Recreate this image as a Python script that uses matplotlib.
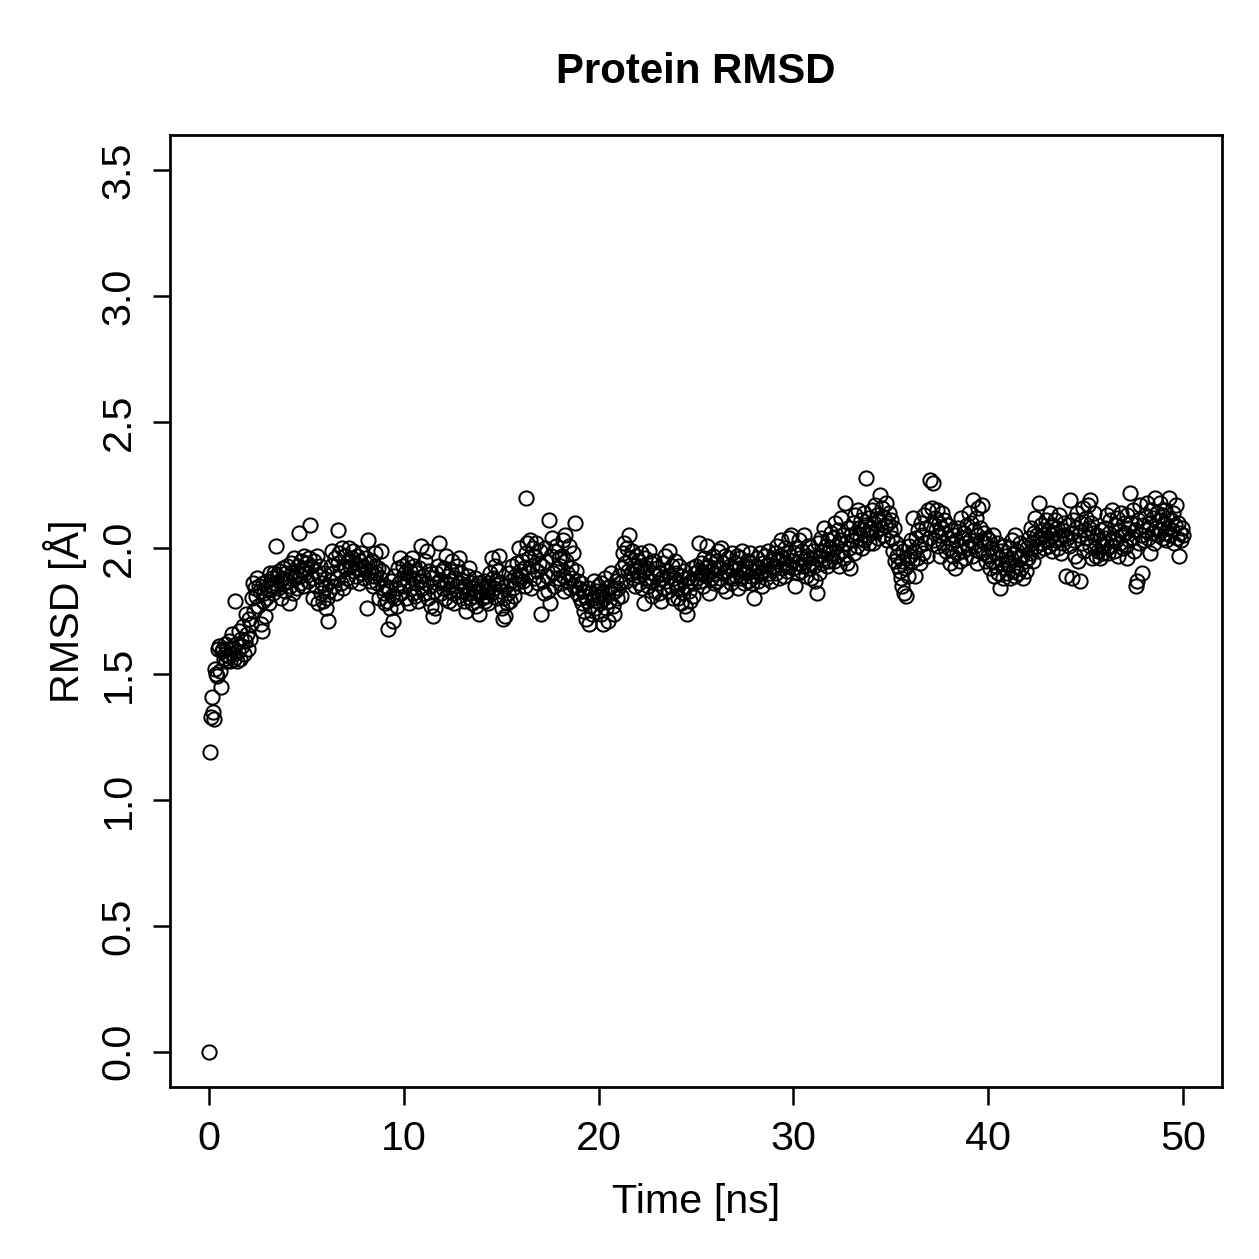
import numpy as np
import matplotlib
matplotlib.use("Agg")
import matplotlib.pyplot as plt

plt.rcParams["font.family"] = ["Liberation Sans", "DejaVu Sans"]

# RMSD, one row per ns (20 frames, 0.05 ns apart)
rmsd_rows = [
    [0.00, 1.19, 1.33, 1.41, 1.35, 1.32, 1.52, 1.50, 1.49, 1.60, 1.61, 1.51, 1.45, 1.59, 1.60, 1.56, 1.58, 1.62, 1.55, 1.60],
    [1.57, 1.63, 1.55, 1.60, 1.66, 1.58, 1.56, 1.79, 1.62, 1.55, 1.59, 1.67, 1.56, 1.64, 1.61, 1.69, 1.58, 1.63, 1.74, 1.66],
    [1.60, 1.72, 1.64, 1.70, 1.80, 1.86, 1.75, 1.84, 1.81, 1.88, 1.77, 1.85, 1.83, 1.70, 1.67, 1.79, 1.86, 1.82, 1.73, 1.80],
    [1.87, 1.84, 1.78, 1.90, 1.85, 1.88, 1.82, 1.90, 1.86, 2.01, 1.89, 1.84, 1.91, 1.87, 1.80, 1.88, 1.92, 1.86, 1.83, 1.90],
    [1.93, 1.87, 1.78, 1.85, 1.94, 1.90, 1.82, 1.96, 1.88, 1.91, 1.84, 1.93, 2.06, 1.89, 1.86, 1.95, 1.91, 1.85, 1.97, 1.90],
    [1.92, 1.94, 1.87, 1.96, 2.09, 1.93, 1.88, 1.80, 1.95, 1.91, 1.85, 1.97, 1.78, 1.89, 1.93, 1.82, 1.86, 1.79, 1.90, 1.84],
    [1.76, 1.80, 1.71, 1.83, 1.87, 1.93, 1.99, 1.90, 1.85, 1.96, 1.82, 1.88, 1.94, 2.07, 1.98, 1.91, 1.86, 2.00, 1.84, 1.93],
    [1.97, 1.92, 1.88, 1.95, 2.00, 1.93, 1.87, 1.96, 1.99, 1.91, 1.94, 1.89, 1.97, 1.92, 1.86, 1.95, 1.98, 1.90, 1.93, 1.88],
    [1.92, 1.96, 1.76, 2.03, 1.94, 1.87, 1.91, 1.95, 1.85, 1.89, 1.93, 1.98, 1.90, 1.86, 1.92, 1.80, 1.88, 1.99, 1.91, 1.84],
    [1.82, 1.78, 1.85, 1.79, 1.68, 1.83, 1.76, 1.87, 1.81, 1.71, 1.89, 1.80, 1.84, 1.77, 1.92, 1.86, 1.96, 1.82, 1.88, 1.93],
    [1.85, 1.90, 1.80, 1.94, 1.87, 1.78, 1.91, 1.84, 1.96, 1.82, 1.88, 1.93, 1.81, 1.86, 1.90, 1.79, 1.92, 1.87, 2.01, 1.84],
    [1.89, 1.82, 1.95, 1.86, 1.99, 1.80, 1.91, 1.85, 1.77, 1.88, 1.73, 1.83, 1.76, 1.90, 1.86, 1.93, 2.02, 1.87, 1.82, 1.91],
    [1.84, 1.92, 1.80, 1.97, 1.86, 1.89, 1.79, 1.83, 1.91, 1.87, 1.95, 1.82, 1.78, 1.88, 1.85, 1.93, 1.81, 1.96, 1.86, 1.90],
    [1.83, 1.87, 1.79, 1.85, 1.75, 1.82, 1.89, 1.92, 1.80, 1.86, 1.78, 1.84, 1.81, 1.88, 1.77, 1.83, 1.86, 1.74, 1.82, 1.85],
    [1.80, 1.84, 1.87, 1.79, 1.83, 1.81, 1.86, 1.78, 1.85, 1.90, 1.82, 1.96, 1.88, 1.84, 1.93, 1.87, 1.80, 1.91, 1.97, 1.86],
    [1.83, 1.76, 1.72, 1.80, 1.73, 1.85, 1.78, 1.82, 1.90, 1.79, 1.87, 1.93, 1.84, 1.81, 1.89, 1.86, 1.94, 1.88, 2.00, 1.91],
    [1.89, 1.95, 1.87, 1.92, 1.85, 1.98, 2.20, 2.02, 1.90, 1.96, 2.03, 1.84, 1.93, 2.00, 1.88, 1.97, 2.02, 1.91, 1.86, 1.94],
    [1.99, 1.74, 1.93, 1.87, 1.82, 2.00, 1.95, 1.89, 1.83, 2.11, 1.78, 1.97, 2.04, 1.90, 1.85, 1.99, 2.01, 1.92, 1.88, 1.96],
    [1.93, 1.86, 1.97, 2.03, 1.89, 1.83, 2.05, 1.95, 1.90, 1.87, 2.01, 1.84, 1.92, 1.88, 1.98, 1.85, 2.10, 1.91, 1.82, 1.87],
    [1.84, 1.80, 1.86, 1.78, 1.83, 1.75, 1.81, 1.72, 1.79, 1.84, 1.70, 1.77, 1.82, 1.74, 1.80, 1.87, 1.76, 1.83, 1.79, 1.85],
    [1.81, 1.78, 1.86, 1.74, 1.82, 1.70, 1.80, 1.88, 1.76, 1.84, 1.71, 1.79, 1.85, 1.90, 1.82, 1.77, 1.74, 1.83, 1.87, 1.80],
    [1.84, 1.89, 1.86, 1.81, 1.92, 1.98, 2.02, 1.94, 1.87, 2.00, 1.91, 2.05, 1.96, 1.90, 1.99, 1.88, 1.93, 1.85, 1.97, 1.91],
    [1.95, 1.89, 1.86, 1.93, 1.98, 1.84, 1.91, 1.78, 1.96, 1.88, 1.92, 1.85, 1.99, 1.87, 1.94, 1.81, 1.90, 1.95, 1.83, 1.89],
    [1.92, 1.86, 1.82, 1.90, 1.79, 1.88, 1.94, 1.84, 1.97, 1.87, 1.91, 1.83, 1.99, 1.89, 1.85, 1.93, 1.80, 1.88, 1.95, 1.86],
    [1.90, 1.84, 1.80, 1.93, 1.86, 1.78, 1.89, 1.82, 1.91, 1.77, 1.85, 1.74, 1.88, 1.83, 1.79, 1.87, 1.92, 1.81, 1.86, 1.90],
    [1.93, 1.88, 1.91, 2.02, 1.87, 1.94, 1.90, 1.85, 1.96, 1.92, 1.89, 2.01, 1.93, 1.82, 1.95, 1.88, 1.91, 1.97, 1.86, 1.92],
    [1.90, 1.95, 1.87, 1.99, 1.92, 1.88, 2.00, 1.85, 1.94, 1.90, 1.97, 1.83, 1.91, 1.96, 1.89, 1.93, 1.86, 1.98, 1.92, 1.88],
    [1.94, 1.89, 1.97, 1.84, 1.92, 1.96, 1.88, 1.99, 1.91, 1.86, 1.93, 1.90, 1.95, 1.87, 1.92, 1.98, 1.89, 1.94, 1.86, 1.91],
    [1.80, 1.93, 1.89, 1.96, 1.87, 1.92, 1.98, 1.90, 1.85, 1.94, 1.91, 1.97, 1.88, 1.93, 1.99, 1.90, 1.95, 1.87, 1.92, 1.96],
    [1.93, 1.98, 1.90, 2.01, 1.95, 1.88, 1.97, 2.03, 1.92, 1.96, 1.89, 2.00, 1.94, 1.91, 1.98, 2.04, 1.93, 1.97, 2.05, 1.95],
    [1.92, 1.98, 1.85, 2.00, 1.94, 1.90, 2.03, 1.96, 1.91, 1.99, 1.93, 2.05, 1.95, 1.89, 1.97, 2.01, 1.92, 1.96, 1.88, 1.94],
    [1.99, 1.93, 1.87, 1.96, 1.82, 2.02, 1.90, 1.97, 2.04, 1.94, 1.99, 2.08, 1.96, 2.01, 1.93, 1.98, 2.03, 1.95, 2.00, 2.06],
    [1.98, 2.04, 1.95, 2.10, 2.01, 1.97, 2.07, 1.93, 2.03, 2.12, 1.99, 2.05, 1.96, 2.18, 2.02, 1.94, 2.08, 2.00, 1.92, 2.05],
    [2.03, 2.10, 1.98, 2.13, 2.06, 2.01, 2.15, 2.08, 2.04, 2.11, 2.00, 2.07, 2.14, 2.03, 2.09, 2.28, 2.05, 2.12, 2.02, 2.08],
    [2.06, 2.15, 2.02, 2.10, 2.17, 2.07, 2.13, 2.04, 2.11, 2.21, 2.08, 2.16, 2.05, 2.12, 2.09, 2.18, 2.03, 2.10, 2.14, 2.07],
    [2.11, 2.04, 1.99, 2.08, 1.95, 2.02, 1.97, 1.93, 2.00, 1.91, 1.88, 1.95, 1.85, 1.99, 1.82, 1.92, 1.81, 1.96, 1.89, 2.01],
    [1.97, 2.03, 1.95, 2.12, 1.99, 1.89, 2.04, 1.96, 2.07, 2.01, 1.94, 2.10, 2.05, 1.98, 2.13, 2.02, 2.08, 1.97, 2.15, 2.04],
    [2.27, 2.09, 2.16, 2.26, 2.03, 2.12, 2.07, 2.15, 2.01, 2.10, 2.05, 1.97, 2.08, 2.14, 2.02, 2.11, 2.06, 1.99, 2.09, 2.04],
    [2.00, 1.94, 2.07, 2.02, 1.97, 2.05, 1.92, 2.03, 1.98, 2.08, 2.01, 1.95, 2.12, 2.04, 1.99, 2.06, 1.96, 2.02, 2.09, 2.00],
    [2.14, 2.03, 2.10, 1.97, 2.19, 2.07, 2.01, 2.12, 1.94, 2.05, 2.16, 1.99, 2.08, 2.03, 2.17, 1.98, 2.06, 2.02, 1.95, 2.04],
    [1.97, 2.03, 1.92, 2.00, 1.95, 2.05, 1.89, 1.98, 1.93, 2.02, 1.90, 1.96, 1.84, 1.99, 1.94, 1.88, 2.01, 1.92, 1.97, 1.90],
    [1.94, 2.00, 1.88, 1.96, 2.03, 1.91, 1.98, 1.89, 2.05, 1.93, 1.99, 1.90, 1.96, 2.02, 1.92, 1.97, 1.88, 2.01, 1.95, 1.91],
    [2.00, 1.96, 2.04, 1.98, 2.08, 2.02, 1.95, 2.06, 2.12, 2.01, 2.05, 1.99, 2.18, 2.04, 2.09, 2.02, 2.07, 2.00, 2.05, 2.11],
    [2.03, 2.07, 2.01, 2.14, 2.05, 1.99, 2.09, 2.02, 2.06, 2.11, 2.03, 2.08, 2.00, 2.13, 2.04, 1.98, 2.07, 2.02, 2.10, 2.05],
    [1.89, 2.04, 2.09, 2.01, 2.19, 2.06, 1.88, 2.11, 2.03, 1.97, 2.08, 2.14, 1.95, 2.05, 1.87, 2.10, 2.02, 2.16, 1.99, 2.07],
    [2.12, 2.04, 2.17, 2.08, 2.19, 2.01, 2.10, 1.96, 2.06, 2.14, 2.00, 1.97, 2.05, 1.99, 2.03, 1.96, 2.07, 2.01, 1.98, 2.04],
    [2.08, 2.02, 2.13, 1.98, 2.06, 2.11, 2.01, 2.15, 2.04, 1.99, 2.09, 2.03, 2.12, 1.97, 2.07, 2.02, 2.14, 2.05, 2.00, 2.10],
    [2.06, 2.01, 2.13, 1.96, 2.08, 2.03, 2.22, 2.10, 2.04, 2.15, 1.99, 2.07, 1.85, 1.87, 2.11, 2.02, 2.17, 2.05, 1.90, 2.09],
    [2.03, 2.13, 2.07, 2.18, 2.04, 2.10, 1.98, 2.15, 2.06, 2.12, 2.02, 2.20, 2.08, 2.14, 2.05, 2.11, 2.18, 2.07, 2.13, 2.04],
    [2.10, 2.06, 2.15, 2.03, 2.12, 2.08, 2.20, 2.05, 2.11, 2.07, 2.14, 2.02, 2.09, 2.17, 2.04, 2.10, 1.97, 2.06, 2.03, 2.08],
    [2.05],
]
rmsd = np.array([v for row in rmsd_rows for v in row])
time_ns = np.arange(len(rmsd)) * 0.05

x_ticks = [0, 10, 20, 30, 40, 50]
y_ticks = [0.0, 0.5, 1.0, 1.5, 2.0, 2.5, 3.0, 3.5]

fig = plt.figure(figsize=(1259 / 180, 1259 / 180), dpi=180)
ax = fig.add_axes([0.135, 0.1366, 0.8356, 0.7562])

ax.plot(time_ns, rmsd, linestyle="none", marker="o", markersize=5.7,
        markerfacecolor="none", markeredgecolor="black", markeredgewidth=0.8)

ax.set_xlim(-2, 52)
ax.set_ylim(-0.14, 3.64)
ax.set_xticks(x_ticks)
ax.set_xticklabels([str(t) for t in x_ticks])
ax.set_yticks(y_ticks)
ax.set_yticklabels([f"{t:.1f}" for t in y_ticks], rotation=90, va="center")
ax.tick_params(length=7, width=1.0, labelsize=16.5, pad=6, color="black")
for s in ax.spines.values():
    s.set_linewidth(1.1)

ax.set_xlabel("Time [ns]", fontsize=16.5, labelpad=10)
ax.set_ylabel("RMSD [Å]", fontsize=16.5, labelpad=5)
fig.text(0.553, 0.943, "Protein RMSD", fontsize=16.8, fontweight="bold",
         ha="center", va="center")

fig.savefig("out.png", dpi=180, facecolor="white")
